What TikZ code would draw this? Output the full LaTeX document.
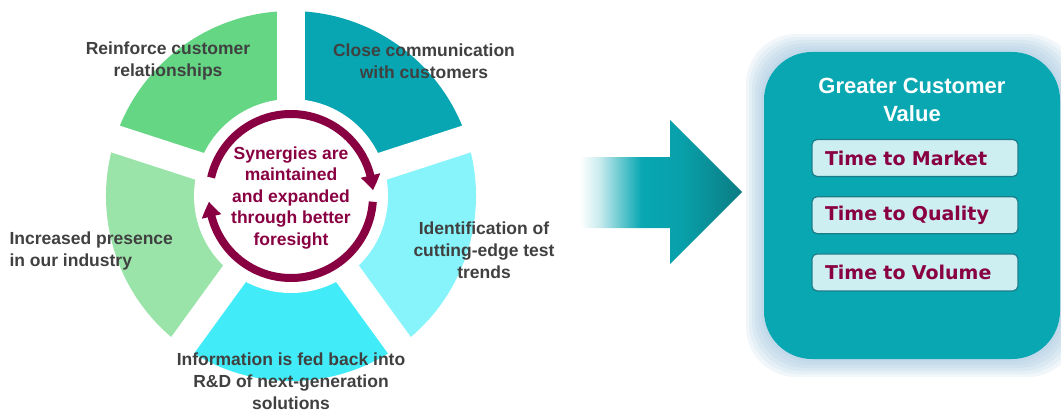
\documentclass[tikz,border=0pt]{standalone}
\usepackage{fontspec}
\setmainfont{Liberation Sans}
\newfontfamily\timefont{DejaVu Sans}
\usetikzlibrary{arrows.meta,bending,positioning}
\definecolor{segtopleft}{HTML}{64D684}
\definecolor{segtopright}{HTML}{07A6B2}
\definecolor{segright}{HTML}{86F4FA}
\definecolor{segbottom}{HTML}{41ECF8}
\definecolor{segleft}{HTML}{9AE4AA}
\definecolor{txtgray}{HTML}{404040}
\definecolor{wine}{HTML}{890042}
\definecolor{boxteal}{HTML}{08A7B2}
\definecolor{arrowdark}{HTML}{0B7C82}
\definecolor{glowblue}{HTML}{8DB8D8}
\definecolor{timefill}{HTML}{CDEFF2}
\definecolor{timeedge}{HTML}{1B7C8A}
\pgfdeclarehorizontalshading{arrowfade}{100bp}{color(0bp)=(white); color(25bp)=(white);
  color(31bp)=(boxteal!22); color(38bp)=(boxteal!65); color(44bp)=(boxteal);
  color(56bp)=(boxteal!85!arrowdark); color(75bp)=(arrowdark); color(100bp)=(arrowdark)}

\begin{document}
\begin{tikzpicture}[x=1pt,y=-1pt,
  seglabel/.style={font=\bfseries\fontsize{17.5}{22}\selectfont, text=txtgray, align=center},
  ringlabel/.style={font=\bfseries\fontsize{17.5}{21.5}\selectfont, text=wine, align=center},
  titlelabel/.style={font=\bfseries\fontsize{22}{27.5}\selectfont, text=white, align=center},
  timebox/.style={draw=timeedge, line width=1.2pt, fill=timefill, rounded corners=5pt,
    minimum width=206pt, minimum height=37pt, text width=180pt, inner xsep=0pt, align=left,
    font=\timefont\bfseries\fontsize{19}{22}\selectfont, text=wine},
  ring/.style={draw=wine, line width=8pt, -{Triangle[width=19pt,length=15pt,bend]}}]
\useasboundingbox (0,0) rectangle (1061,412);

\begin{scope}[shift={(291,196)}, yscale=-1]
  \foreach \a/\c in {90/segtopleft, 18/segtopright, -54/segright, -126/segbottom, 162/segleft}
    \fill[\c] (0,0) -- (\a:185) arc[start angle=\a, end angle=\a+72, radius=185] -- cycle;
  \fill[white] (0,0) circle (97);
  \foreach \a in {18,90,162,234,306}
    \draw[white, line width=28pt] (0,0) -- (\a:195);
  \draw[ring] (167:82) arc[start angle=167, end angle=4, radius=82];
  \draw[ring] (-4:82) arc[start angle=-4, end angle=-176, radius=82];
\end{scope}

\node[seglabel] (reinforce) at (168,61) {Reinforce customer\\relationships};
\node[seglabel] (closecomm) at (424,61) {Close communication\\with customers};
\node[seglabel] (identify) at (484,250) {Identification of\\cutting-edge test\\trends};
\node[seglabel] (feedback) at (291,381) {Information is fed back into\\R\&D of next-generation\\solutions};
\node[seglabel, align=left, anchor=west] (presence) at (6,251) {Increased presence\\in our industry};
\node[ringlabel] (synergy) at (291,198) {Synergies are\\maintained\\and expanded\\through better\\foresight};

\shade[shading=arrowfade]
  (580,157) -- (670,157) -- (670,120) -- (742,192) -- (670,264) -- (670,228) -- (580,228) -- cycle;

\foreach \g in {18,15,...,3}
  \fill[glowblue, opacity=0.12, rounded corners=50pt] (764-\g,52-\g) rectangle (1060+\g,359+\g);
\fill[boxteal, rounded corners=48pt] (764,52) rectangle (1060,359);

\node[titlelabel] (valuetitle) at (912,100) {Greater Customer\\Value};
\node[timebox] (market) at (915,158) {Time to Market};
\node[timebox, below=19pt of market] (quality) {Time to Quality};
\node[timebox, below=19pt of quality] (volume) {Time to Volume};
\end{tikzpicture}
\end{document}
